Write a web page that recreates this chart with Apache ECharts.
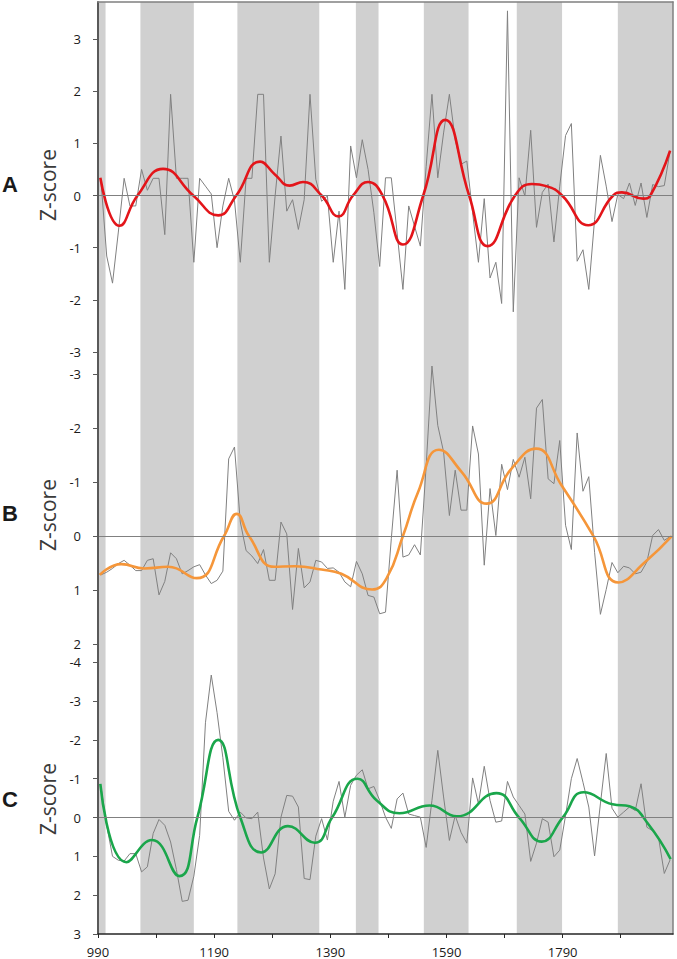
<!DOCTYPE html>
<html><head><meta charset="utf-8">
<script src="https://cdn.jsdelivr.net/npm/echarts@6/dist/echarts.min.js"></script>
<style>html,body{margin:0;padding:0;background:#fff}#c{width:677px;height:959px}</style>
</head><body><div id="c"></div>
<script>
// decadal sample years
const years = [995,1005,1015,1025,1035,1045,1055,1065,1075,1085,1095,1105,1115,1125,1135,1145,1155,1165,1175,1185,1195,1205,1215,1225,1235,1245,1255,1265,1275,1285,1295,1305,1315,1325,1335,1345,1355,1365,1375,1385,1395,1405,1415,1425,1435,1445,1455,1465,1475,1485,1495,1505,1515,1525,1535,1545,1555,1565,1575,1585,1595,1605,1615,1625,1635,1645,1655,1665,1675,1685,1695,1705,1715,1725,1735,1745,1755,1765,1775,1785,1795,1805,1815,1825,1835,1845,1855,1865,1875,1885,1895,1905,1915,1925,1935,1945,1955,1965,1975];

// Panel A raw z-scores
const grayA = [0.3,-1.16,-1.68,-0.7,0.33,-0.2,-0.2,0.5,0.1,0.33,0.33,-0.75,1.94,0.33,0.33,0.33,-1.28,0.33,0.18,0.03,-1.0,-0.2,0.33,-0.1,-1.28,0.33,0.33,1.94,1.94,-1.28,0.0,1.14,-0.3,-0.08,-0.65,-0.08,1.94,0.31,-0.11,-0.01,-1.28,-0.3,-1.8,0.95,0.34,1.07,0.5,-0.33,-1.36,0.34,0.34,-0.72,-1.8,-0.2,-0.59,-0.97,0.56,1.94,0.34,1.2,1.94,1.07,0.6,0.66,-0.33,-1.28,-0.06,-1.58,-1.28,-2.07,3.54,-2.23,0.34,-0.01,1.25,-0.61,0.06,0.22,-0.89,0.18,1.15,1.38,-1.26,-1.04,-1.8,-0.46,0.77,0.18,-0.5,0.02,-0.06,0.24,-0.19,0.24,-0.42,0.21,0.17,0.19,0.85];
// Panel B raw z-scores (axis inverted)
const grayB = [0.72,0.67,0.6,0.51,0.45,0.54,0.64,0.64,0.45,0.42,1.09,0.84,0.31,0.42,0.7,0.64,0.57,0.53,0.72,0.88,0.82,0.65,-1.43,-1.65,-0.26,0.27,0.37,0.51,0.25,0.82,0.82,-0.26,-0.04,1.36,0.23,0.96,0.85,0.45,0.48,0.6,0.59,0.67,0.85,0.94,0.47,0.7,1.1,1.13,1.44,1.41,0.05,-1.22,0.39,0.35,0.16,0.35,-1.3,-3.15,-2.05,-1.56,-0.38,-1.22,-0.48,-0.48,-2.04,-1.52,0.54,-0.88,-0.01,-1.33,-0.86,-1.42,-1.09,-1.46,-0.69,-2.37,-2.53,-1.06,-0.97,-1.77,-0.2,0.25,-1.91,-0.83,-1.1,0.3,1.45,0.99,0.49,0.68,0.56,0.59,0.7,0.67,0.48,-0.01,-0.12,0.08,0.01];
// Panel C raw z-scores (axis inverted)
const grayC = [-0.8,0.2,1.0,1.1,1.12,0.93,0.93,1.4,1.27,0.41,0.05,0.2,0.63,1.34,2.16,2.13,1.51,0.46,-2.44,-3.67,-2.7,-1.54,-0.16,0.07,-0.14,0.01,0.03,-0.14,1.04,1.84,1.45,-0.01,-0.57,-0.55,-0.27,1.57,1.6,0.48,0.03,0.58,-0.42,-0.93,-0.01,-0.83,-1.09,-1.23,-0.74,-0.8,-0.44,-0.01,0.28,-0.48,-0.63,-0.09,-0.05,-0.01,0.77,-0.44,-1.73,-0.53,0.59,-0.05,0.38,0.66,-1.02,-0.35,-1.32,-0.44,0.12,0.09,-0.93,-0.53,-0.31,-0.09,1.13,0.66,0.03,0.12,1.01,0.84,-0.05,-1.0,-1.52,-0.91,-0.27,0.99,-0.35,-1.65,-0.24,-0.01,-0.14,-0.27,-0.18,-0.87,0.25,0.34,0.51,1.44,1.09];

// Smoothed curves
const smoothAYears  = [994,1027,1058,1102,1154,1197,1228,1269,1295,1320,1343,1375,1404,1429,1455,1480,1515,1550,1588,1629,1661,1708,1737,1762,1789,1834,1877,1892,1929,1941,1975];
const smoothAValues = [0.34,-0.58,0,0.51,0,-0.38,0,0.65,0.4,0.19,0.26,0,-0.4,0,0.26,0,-0.94,0,1.45,0,-0.97,0,0.22,0.18,0,-0.57,0,0.06,-0.06,0,0.86];
const smoothBYears  = [993,1030,1070,1111,1160,1207,1229,1250,1294,1329,1375,1409,1462,1487,1515,1541,1577,1616,1659,1702,1744,1788,1843,1886,1932,1978];
const smoothBValues = [0.72,0.52,0.6,0.57,0.78,0,-0.41,0,0.57,0.56,0.62,0.7,0.99,0.78,0,-0.81,-1.6,-1.19,-0.6,-1.25,-1.62,-0.94,0,0.86,0.48,0];
const smoothCYears  = [994,1039,1083,1130,1161,1197,1235,1271,1317,1363,1393,1437,1470,1509,1561,1608,1676,1715,1754,1790,1826,1876,1905,1937,1976];
const smoothCValues = [-0.87,1.15,0.58,1.51,0,-2.0,0,0.9,0.22,0.65,0,-1.0,-0.44,-0.11,-0.31,-0.03,-0.63,0,0.62,0,-0.65,-0.34,-0.29,0.16,1.07];

// shaded periods
const bandStarts = [990,1063,1230,1434,1551,1711,1885];
const bandEnds   = [1003,1155,1371,1473,1628,1789,1980];

// tick labels
const xTicks  = [990,1090,1190,1290,1390,1490,1590,1690,1790,1890];
const xLabels = [990,1190,1390,1590,1790];
const yTicksA = [-3,-2,-1,0,1,2,3];
const yTicksB = [-3,-2,-1,0,1,2];
const yTicksC = [-4,-3,-2,-1,0,1,2,3];
const panelLetters = ['A','B','C'];
const yTitle = 'Z-score';

const FONT = "'Open Sans', 'Liberation Sans', sans-serif";
const chart = echarts.init(document.getElementById('c'), null, {renderer:'svg'});

const pair = (xs, ys) => xs.map((x, i) => [x, ys[i]]);
const bandData = bandStarts.map((s, i) => [{xAxis: s}, {xAxis: bandEnds[i]}]);

function yAx(idx, min, max, inverse, ticks) {
  return {
    type:'value', gridIndex: idx, min, max, inverse, z:10,
    axisLine:{show:true, onZero:false, lineStyle:{color:'#595959', width:2}},
    axisTick:{show:true, customValues: ticks, length:5, lineStyle:{color:'#595959', width:1}},
    axisLabel:{customValues: ticks, margin:17, fontSize:13, color:'#1a1a1a', fontFamily: FONT,
      formatter: v => String(v)},
    splitLine:{show:false}
  };
}
function hiddenX(idx) {
  return {type:'value', gridIndex: idx, min:990, max:1980, show:false};
}
function graySeries(idx, vals) {
  return {
    type:'line', xAxisIndex: idx, yAxisIndex: idx, data: pair(years, vals),
    symbol:'none', showSymbol:false, z:3,
    lineStyle:{color:'#808080', width:1},
    markArea:{silent:true, itemStyle:{color:'#d0d0d0'}, data: bandData},
    markLine:{silent:true, symbol:['none','none'], label:{show:false},
      lineStyle:{color:'#808080', width:1, type:'solid'}, data:[{yAxis:0}]}
  };
}
function smoothSeries(idx, xs, ys, color) {
  return {
    type:'line', xAxisIndex: idx, yAxisIndex: idx, data: pair(xs, ys),
    symbol:'none', showSymbol:false, smooth:0.5, z:4,
    lineStyle:{color, width:2.6}
  };
}

const letterY = [185, 514, 800];
const titleY = [185, 515, 799];
const graphics = [];
panelLetters.forEach((L, i) => {
  graphics.push({type:'text', left:2, top: letterY[i]-12,
    style:{text:L, font:"bold 22px 'Liberation Sans', Arial, sans-serif", fill:'#1a1a1a'}});
  graphics.push({type:'text', x:48, y:titleY[i], rotation:Math.PI/2,
    style:{text:yTitle, font:"21px " + FONT, fill:'#3a3a3a', align:'center', verticalAlign:'middle'}});
});

chart.setOption({
  animation:false,
  backgroundColor:'#ffffff',
  grid:[
    {left:98, right:4, top:2, height:350},
    {left:98, right:4, top:352, height:292},
    {left:98, right:4, top:644, height:290},
    {left:98, right:4, top:2, height:932}
  ],
  xAxis:[
    hiddenX(0), hiddenX(1),
    {type:'value', gridIndex:2, min:990, max:1980, z:10,
      axisLine:{show:true, onZero:false, lineStyle:{color:'#262626', width:1.5}},
      axisTick:{show:true, customValues:xTicks, length:4, lineStyle:{color:'#262626', width:1}},
      axisLabel:{customValues:xLabels, margin:11, fontSize:13, color:'#1a1a1a', fontFamily:FONT,
        formatter: v => String(v)},
      splitLine:{show:false}},
    {type:'value', gridIndex:3, min:990, max:1980, position:'top', z:10,
      axisLine:{show:true, onZero:false, lineStyle:{color:'#808080', width:1.5}},
      axisTick:{show:false}, axisLabel:{show:false}, splitLine:{show:false}}
  ],
  yAxis:[
    yAx(0, -3, 3.71, false, yTicksA),
    yAx(1, -3.41, 2, true, yTicksB),
    yAx(2, -4.47, 3, true, yTicksC),
    {type:'value', gridIndex:3, min:0, max:1, position:'right', z:10,
      axisLine:{show:true, onZero:false, lineStyle:{color:'#808080', width:1.5}},
      axisTick:{show:false}, axisLabel:{show:false}, splitLine:{show:false}}
  ],
  series:[
    graySeries(0, grayA), smoothSeries(0, smoothAYears, smoothAValues, '#e3151a'),
    graySeries(1, grayB), smoothSeries(1, smoothBYears, smoothBValues, '#f5963a'),
    graySeries(2, grayC), smoothSeries(2, smoothCYears, smoothCValues, '#1aa64b')
  ],
  graphic: graphics
});
</script></body></html>
